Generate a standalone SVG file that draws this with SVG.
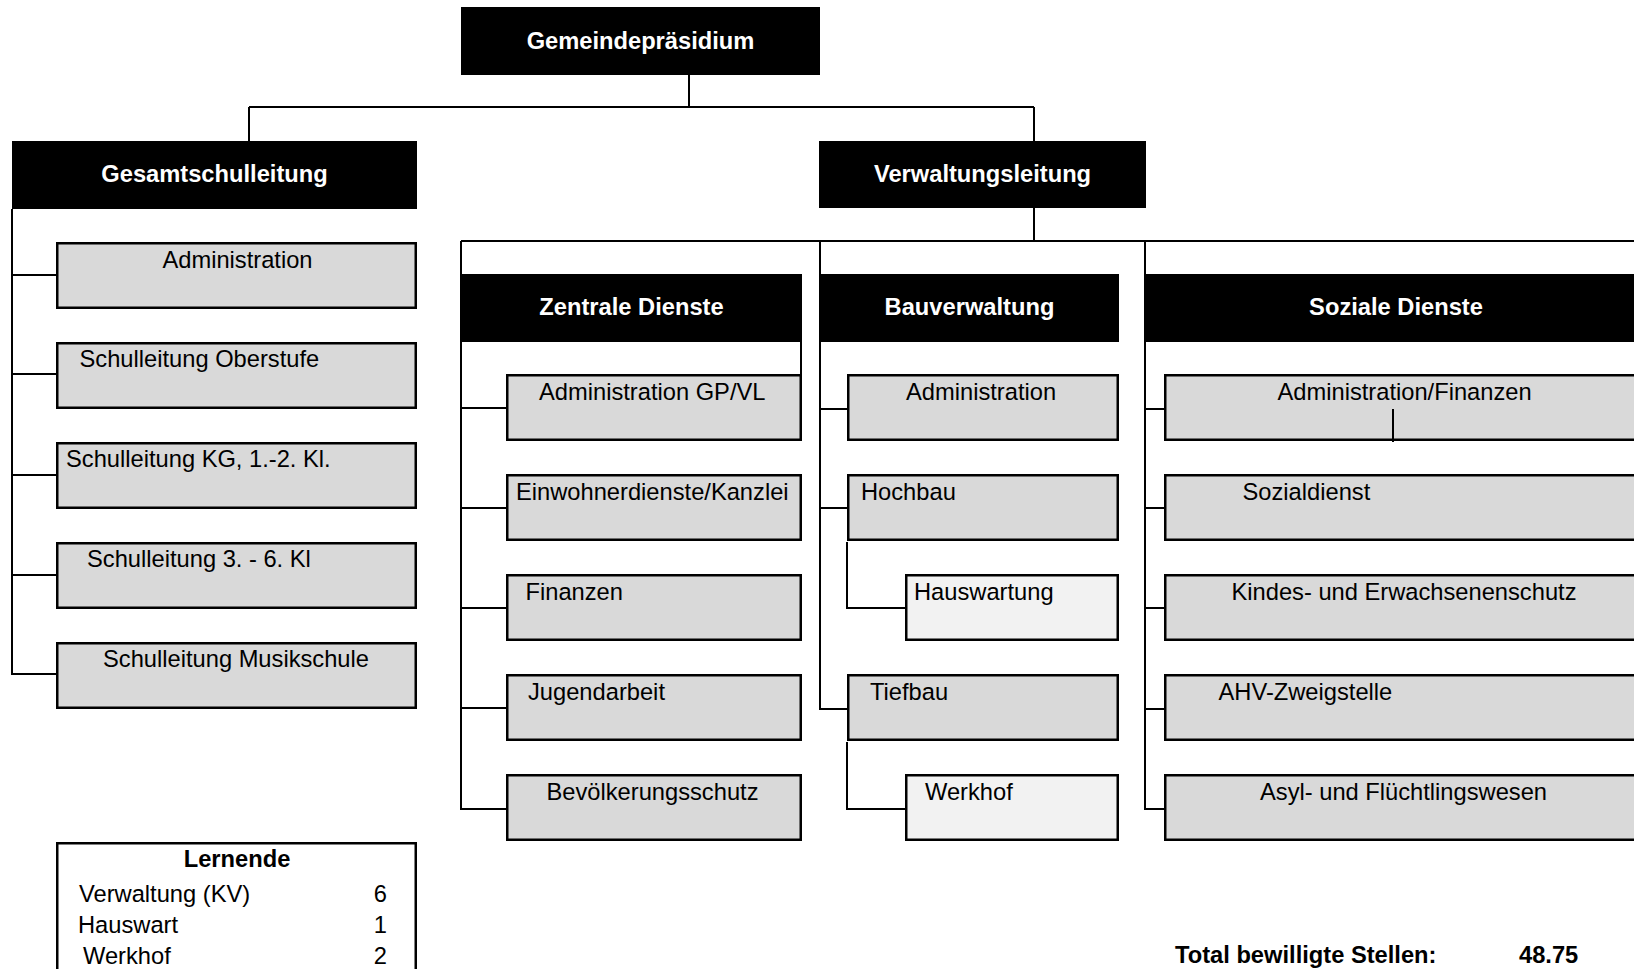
<svg xmlns="http://www.w3.org/2000/svg" width="1634" height="969" viewBox="0 0 1634 969">
<style>
text{font-family:"Liberation Sans",Arial,sans-serif;font-size:23.7px;fill:#000}
.hdr rect{fill:#000}
.hdr text{fill:#fff;font-weight:bold;text-anchor:middle}
.box rect{fill:#d9d9d9;stroke:#000;stroke-width:2.5}
.box.light rect{fill:#f2f2f2}
.conn path{fill:none;stroke:#000;stroke-width:2}
.b{font-weight:bold}
.e{text-anchor:end}
.m{text-anchor:middle}
</style>
<rect width="1634" height="969" fill="#fff"/>

<g class="conn" id="connectors">
<path d="M689,75V107M249,107H1034M249,107V141M1034,107V141"/>
<path d="M1034,208V241M461,241H1640"/>
<path d="M12,209V674H56M12,275H56M12,374H56M12,475H56M12,575H56"/>
<path d="M461,241V809H506M461,408H506M461,508H506M461,608H506M461,708H506M801,342V375"/>
<path d="M820,241V709H847M820,409H847M820,508H847M847,542V608H905M847,742V809H905"/>
<path d="M1145,241V809H1164M1145,409H1164M1145,508H1164M1145,608H1164M1145,709H1164"/>
</g>

<g class="hdr" id="gemeindepraesidium"><rect x="461" y="7" width="359" height="68"/><text x="640.5" y="49">Gemeindepräsidium</text></g>
<g class="hdr" id="gesamtschulleitung"><rect x="12" y="141" width="405" height="68"/><text x="214.5" y="182">Gesamtschulleitung</text></g>
<g class="hdr" id="verwaltungsleitung"><rect x="819" y="141" width="327" height="67"/><text x="982.5" y="182">Verwaltungsleitung</text></g>
<g class="hdr" id="zentrale-dienste"><rect x="461" y="274" width="341" height="68"/><text x="631.5" y="315">Zentrale Dienste</text></g>
<g class="hdr" id="bauverwaltung"><rect x="820" y="274" width="299" height="68"/><text x="969.5" y="315">Bauverwaltung</text></g>
<g class="hdr" id="soziale-dienste"><rect x="1145" y="274" width="502" height="68"/><text x="1396" y="315">Soziale Dienste</text></g>

<g class="box" id="gs-administration"><rect x="57.25" y="243.25" width="358.5" height="64.5"/><text class="m" x="237.5" y="268">Administration</text></g>
<g class="box" id="gs-oberstufe"><rect x="57.25" y="343.25" width="358.5" height="64.5"/><text x="79.5" y="367">Schulleitung Oberstufe</text></g>
<g class="box" id="gs-kg"><rect x="57.25" y="443.25" width="358.5" height="64.5"/><text x="66" y="467">Schulleitung KG, 1.-2. Kl.</text></g>
<g class="box" id="gs-3-6"><rect x="57.25" y="543.25" width="358.5" height="64.5"/><text x="87" y="567">Schulleitung 3. - 6. Kl</text></g>
<g class="box" id="gs-musikschule"><rect x="57.25" y="643.25" width="358.5" height="64.5"/><text x="103" y="667">Schulleitung Musikschule</text></g>

<g class="box" id="zd-admin"><rect x="507.25" y="375.25" width="293.5" height="64.5"/><text x="539" y="400">Administration GP/VL</text></g>
<g class="box" id="zd-einwohner"><rect x="507.25" y="475.25" width="293.5" height="64.5"/><text x="516" y="500">Einwohnerdienste/Kanzlei</text></g>
<g class="box" id="zd-finanzen"><rect x="507.25" y="575.25" width="293.5" height="64.5"/><text x="525.5" y="600">Finanzen</text></g>
<g class="box" id="zd-jugend"><rect x="507.25" y="675.25" width="293.5" height="64.5"/><text x="528" y="700">Jugendarbeit</text></g>
<g class="box" id="zd-bevoelkerung"><rect x="507.25" y="775.25" width="293.5" height="64.5"/><text x="546.5" y="800">Bevölkerungsschutz</text></g>

<g class="box" id="bv-admin"><rect x="848.25" y="375.25" width="269.5" height="64.5"/><text x="906" y="400">Administration</text></g>
<g class="box" id="bv-hochbau"><rect x="848.25" y="475.25" width="269.5" height="64.5"/><text x="861" y="500">Hochbau</text></g>
<g class="box light" id="bv-hauswartung"><rect x="906.25" y="575.25" width="211.5" height="64.5"/><text x="914" y="600">Hauswartung</text></g>
<g class="box" id="bv-tiefbau"><rect x="848.25" y="675.25" width="269.5" height="64.5"/><text x="870" y="700">Tiefbau</text></g>
<g class="box light" id="bv-werkhof"><rect x="906.25" y="775.25" width="211.5" height="64.5"/><text x="925" y="800">Werkhof</text></g>

<g class="box" id="sd-admin"><rect x="1165.25" y="375.25" width="482" height="64.5"/><text x="1277.5" y="400">Administration/Finanzen</text></g>
<g class="box" id="sd-sozialdienst"><rect x="1165.25" y="475.25" width="482" height="64.5"/><text x="1242.5" y="500">Sozialdienst</text></g>
<g class="box" id="sd-kes"><rect x="1165.25" y="575.25" width="482" height="64.5"/><text x="1231.5" y="600">Kindes- und Erwachsenenschutz</text></g>
<g class="box" id="sd-ahv"><rect x="1165.25" y="675.25" width="482" height="64.5"/><text x="1218.5" y="700">AHV-Zweigstelle</text></g>
<g class="box" id="sd-asyl"><rect x="1165.25" y="775.25" width="482" height="64.5"/><text x="1260" y="800">Asyl- und Flüchtlingswesen</text></g>
<path d="M1393,409V442" fill="none" stroke="#000" stroke-width="2"/>

<g id="lernende">
<rect x="57.25" y="843.25" width="358.5" height="150" fill="#fff" stroke="#000" stroke-width="2.5"/>
<text class="b m" x="237" y="867">Lernende</text>
<text x="79" y="901.5">Verwaltung (KV)</text><text class="e" x="387" y="901.5">6</text>
<text x="78" y="932.5">Hauswart</text><text class="e" x="387" y="932.5">1</text>
<text x="83" y="964">Werkhof</text><text class="e" x="387" y="964">2</text>
</g>

<g id="total">
<text class="b" x="1175" y="963">Total bewilligte Stellen:</text>
<text class="b" x="1519" y="963">48.75</text>
</g>
</svg>
